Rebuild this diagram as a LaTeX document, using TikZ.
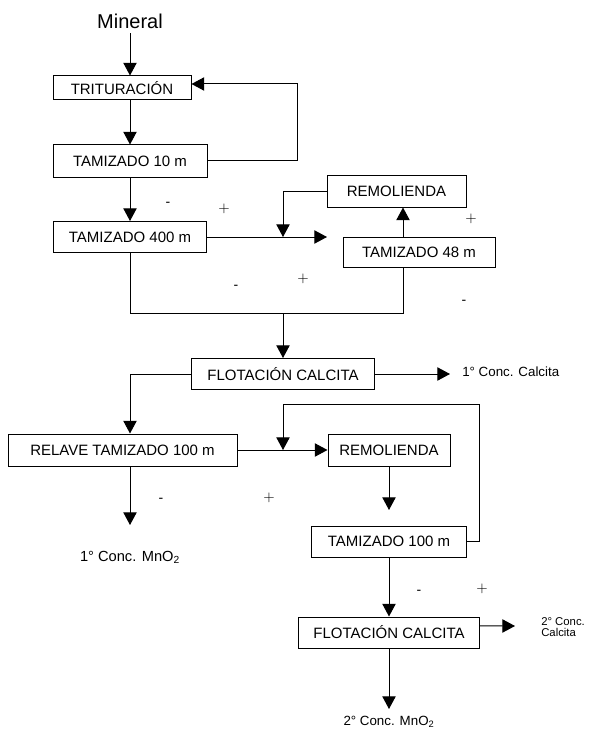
\documentclass[tikz,border=0pt]{standalone}
\usepackage{fontspec}
\setmainfont{Liberation Sans}
\usepackage{tikz}
\usetikzlibrary{arrows.meta}
\tikzstyle{process} = [rectangle, minimum height=24pt, inner sep=0pt, text centered, draw=black, line width=0.75pt, font=\fontsize{11.25}{13}\selectfont]
\tikzstyle{arrow} = [line width=0.75pt,-{Triangle[length=9.5pt,width=10pt]}]
\tikzstyle{line} = [line width=0.75pt]
\tikzstyle{outtext} = [inner sep=0pt, font=\fontsize{10}{12}\selectfont]
\tikzstyle{sign} = [inner sep=0pt, font=\fontsize{10.5}{12}\selectfont]

\begin{document}
\begin{tikzpicture}[x=0.75pt, y=-0.75pt]
                        \useasboundingbox (0,0) rectangle (591,731);
                        \node (mineral) at (130,21) [font=\fontsize{15}{18}\selectfont] {Mineral};
                        \node (tritura) at (122,88) [process, minimum width=103.5pt, minimum height=18pt] {TRITURACIÓN};
                        \node (tam10) at (130,161) [process, minimum width=115.5pt] {TAMIZADO 10 m};
                        \node (tam400) at (130,237) [process, minimum width=114.75pt, minimum height=23.25pt] {TAMIZADO 400 m};
                        \node (remol1) at (396.5,191) [process, minimum width=104.25pt] {REMOLIENDA};
                        \node (tam48) at (419,252) [process, minimum width=114pt, minimum height=22.5pt] {TAMIZADO 48 m};
                        \node (flot1) at (283,374) [process, minimum width=137.25pt, minimum height=23.25pt] {FLOTACIÓN CALCITA};
                        \node (relave) at (122.5,450) [process, minimum width=171.75pt] {RELAVE TAMIZADO 100 m};
                        \node (remol2) at (389,450) [process, minimum width=91.5pt] {REMOLIENDA};
                        \node (tam100) at (389,541.5) [process, minimum width=116.25pt, minimum height=23.25pt] {TAMIZADO 100 m};
                        \node (flot2) at (389,632.5) [process, minimum width=135.75pt, minimum height=23.25pt] {FLOTACIÓN CALCITA};

                        \node (c1calc) at (462,372) [outtext, anchor=west] {1° Conc. Calcita};
                        \node (c1mno) at (130,557) [outtext, font=\fontsize{11}{13}\selectfont] {1° Conc. MnO\textsubscript{2}};
                        \node (c2mno) at (389,722) [outtext] {2° Conc. MnO\textsubscript{2}};
                        \node (c2calc) at (541,627) [outtext, anchor=west, align=left, font=\fontsize{8.5}{8.5}\selectfont] {2° Conc.\\Calcita};

                        \node (s1) at (168,204) [sign] {-};
                        \node (s2) at (224,209) [sign] {$+$};
                        \node (s3) at (471,219) [sign] {$+$};
                        \node (s4) at (236,287) [sign] {-};
                        \node (s5) at (303,279) [sign] {$+$};
                        \node (s6) at (464,302) [sign] {-};
                        \node (s7) at (161,500) [sign] {-};
                        \node (s8) at (269,498) [sign] {$+$};
                        \node (s9) at (419,592) [sign] {-};
                        \node (s10) at (482,589) [sign] {$+$};

                        \coordinate (j1) at (283,237);
                        \coordinate (j2) at (283,313);
                        \coordinate (j3) at (283,450);
                        \coordinate (mix1) at (327,237);
                        \coordinate (c1end) at (450,374);
                        \coordinate (r2end) at (389,510);
                        \coordinate (m1end) at (130,525);
                        \coordinate (c2end) at (515,626);
                        \coordinate (m2end) at (389,709);

                        \draw [arrow] (mineral.south) -- (mineral.south |- tritura.north);
                        \draw [arrow] (tritura.south -| tam10) -- (tam10.north);
                        \draw [arrow] (tam10.east) -| (297,84) -- ([yshift=3pt]tritura.east);
                        \draw [arrow] (tam10.south) -- (tam400.north);
                        \draw [arrow] (tam400.east) -- (mix1);
                        \draw [arrow] (remol1.west) -| (j1);
                        \draw [arrow] ([xshift=-12pt]tam48.north) -- ([xshift=-12pt]tam48.north |- remol1.south);
                        \draw [line] (tam400.south) |- ([xshift=-12pt]tam48.south |- j2) -- ([xshift=-12pt]tam48.south);
                        \draw [arrow] (j2) -- (flot1.north);
                        \draw [arrow] (flot1.east) -- (c1end);
                        \draw [arrow] (flot1.west) -| ([xshift=5.625pt]relave.north);
                        \draw [arrow] (relave.east) -- (remol2.west);
                        \draw [arrow] (tam100.east) -| (479,404) -| (j3);
                        \draw [arrow] (remol2.south) -- (r2end);
                        \draw [arrow] ([xshift=5.625pt]relave.south) -- (m1end);
                        \draw [arrow] (tam100.south) -- (flot2.north);
                        \draw [arrow] ([yshift=4.9pt]flot2.east) -- (c2end);
                        \draw [arrow] (flot2.south) -- (m2end);
                    \end{tikzpicture}
\end{document}
